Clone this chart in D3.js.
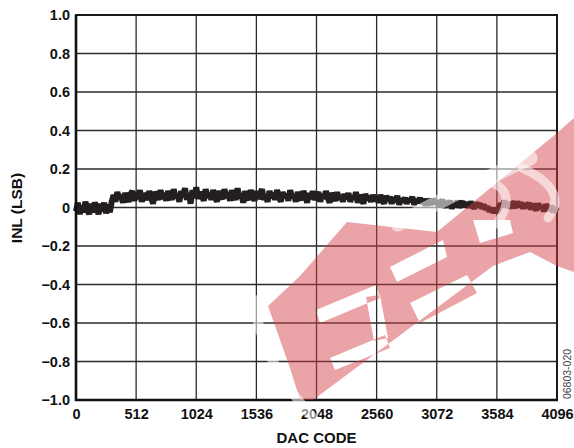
<!DOCTYPE html>
<html><head><meta charset="utf-8">
<script src="https://cdn.jsdelivr.net/npm/d3@7"></script>
<style>html,body{margin:0;padding:0;background:#fff;}svg{display:block;}</style>
</head><body>
<svg id="chart" width="574" height="448"></svg>
<script>
// ---- data ----
const xTickValues = [0, 512, 1024, 1536, 2048, 2560, 3072, 3584, 4096];
const yTickValues = [-1.0, -0.8, -0.6, -0.4, -0.2, 0, 0.2, 0.4, 0.6, 0.8, 1.0];
const yTickLabels = ["\u22121.0","\u22120.8","\u22120.6","\u22120.4","\u22120.2","0","0.2","0.4","0.6","0.8","1.0"];
const codeStep = 16;
// INL (LSB) read every 16 codes, 0 .. 4096
const inl0 = [-0.02,0.025,-0.035,0.01,-0.025,0.03,-0.01,-0.035,0.02,-0.025,0.025,0.0,-0.035,0.02,-0.02,0.025];
const inl1 = [-0.03,0.015,-0.025,0.03,0.065,0.03,0.08,0.045,0.06,0.025,0.075,0.05,0.03,0.07,0.085,0.035];
const inl2 = [0.075,0.045,0.09,0.03,0.07,0.06,0.04,0.085,0.05,0.02,0.08,0.065,0.04,0.09,0.045,0.075];
const inl3 = [0.035,0.085,0.06,0.04,0.095,0.05,0.07,0.03,0.085,0.055,0.1,0.04,0.075,0.02,0.09,0.05];
const inl4 = [0.105,0.045,0.08,0.06,0.035,0.095,0.05,0.075,0.04,0.09,0.055,0.03,0.085,0.06,0.045,0.095];
const inl5 = [0.05,0.08,0.035,0.09,0.06,0.04,0.1,0.05,0.07,0.025,0.085,0.055,0.04,0.09,0.06,0.035];
const inl6 = [0.085,0.045,0.07,0.095,0.04,0.06,0.03,0.085,0.05,0.075,0.04,0.09,0.055,0.03,0.08,0.05];
const inl7 = [0.07,0.035,0.09,0.05,0.065,0.03,0.08,0.055,0.04,0.085,0.06,0.025,0.075,0.045,0.085,0.04];
const inl8 = [0.06,0.08,0.03,0.07,0.045,0.085,0.05,0.025,0.075,0.055,0.035,0.08,0.04,0.065,0.03,0.07];
const inl9 = [0.045,0.075,0.03,0.06,0.04,0.08,0.025,0.065,0.045,0.02,0.07,0.04,0.06,0.03,0.065,0.035];
const inl10 = [0.055,0.025,0.065,0.04,0.02,0.06,0.035,0.055,0.02,0.05,0.03,0.06,0.015,0.045,0.03,0.05];
const inl11 = [0.02,0.045,0.03,0.055,0.015,0.04,0.025,0.05,0.02,0.045,0.01,0.04,0.03,0.015,0.045,0.02];
const inl12 = [0.035,0.005,0.025,0.04,0.0,0.03,0.015,0.035,-0.005,0.025,0.01,0.035,0.0,0.02,0.03,0.005];
const inl13 = [0.025,0.0,0.03,0.01,-0.005,0.025,0.005,0.02,-0.005,0.015,-0.01,0.005,-0.02,-0.005,-0.025,-0.01];
const inl14 = [-0.025,-0.005,0.02,0.005,0.035,0.01,0.025,-0.005,0.03,0.015,0.0,0.03,0.01,0.025,-0.005,0.02];
const inl15 = [0.0,0.025,-0.01,0.015,0.005,-0.015,0.02,-0.005,0.01,-0.02,0.015,0.0,-0.015,0.01,-0.025,-0.005];
const inlLast = [-0.02];
const inlValues = [].concat(inl0,inl1,inl2,inl3,inl4,inl5,inl6,inl7,inl8,inl9,inl10,inl11,inl12,inl13,inl14,inl15,inlLast);
const data = inlValues.map((v,i)=>({code:i*codeStep, inl:v}));

// ---- layout ----
const svg = d3.select("#chart");
const m = {left:76, right:557, top:15, bottom:400};
const x = d3.scaleLinear().domain([0,4096]).range([m.left, m.right]);
const y = d3.scaleLinear().domain([-1,1]).range([m.bottom, m.top]);
const FONT = "'Liberation Sans', Arial, Helvetica, sans-serif";

// grid
svg.append("g").selectAll("line").data(xTickValues.slice(1,-1)).join("line")
  .attr("x1",d=>x(d)).attr("x2",d=>x(d)).attr("y1",m.top).attr("y2",m.bottom)
  .attr("stroke","#2b2b2b").attr("stroke-width",1.3);
svg.append("g").selectAll("line").data(yTickValues.slice(1,-1)).join("line")
  .attr("x1",m.left).attr("x2",m.right).attr("y1",d=>y(d)).attr("y2",d=>y(d))
  .attr("stroke","#2b2b2b").attr("stroke-width",1.3);

// data band
const line = d3.line().x(d=>x(d.code)).y(d=>y(d.inl));
svg.append("path").datum(data).attr("d",line)
  .attr("fill","none").attr("stroke","#231f20").attr("stroke-width",6)
  .attr("stroke-linejoin","bevel").attr("stroke-linecap","butt");

// frame
svg.append("rect").attr("x",m.left).attr("y",m.top).attr("width",m.right-m.left).attr("height",m.bottom-m.top)
  .attr("fill","none").attr("stroke","#1a1a1a").attr("stroke-width",2);
svg.append("line").attr("x1",m.left).attr("x2",m.left).attr("y1",m.top).attr("y2",m.bottom+1)
  .attr("stroke","#111").attr("stroke-width",2.6);
svg.append("line").attr("x1",m.left-1).attr("x2",m.right+1).attr("y1",m.bottom).attr("y2",m.bottom)
  .attr("stroke","#111").attr("stroke-width",2.6);

// axes labels via d3 axes (no lines)
const yAxis = d3.axisLeft(y).tickValues(yTickValues).tickSize(0).tickPadding(6)
  .tickFormat((d,i)=>yTickLabels[i]);
const gy = svg.append("g").attr("transform",`translate(${m.left},0)`).call(yAxis);
gy.select(".domain").remove();
gy.selectAll("text").attr("font-family",FONT).attr("font-size",14.5).attr("font-weight","bold").attr("fill","#111");

const xAxis = d3.axisBottom(x).tickValues(xTickValues).tickSize(0).tickPadding(9).tickFormat(d3.format("d"));
const gx = svg.append("g").attr("transform",`translate(0,${m.bottom})`).call(xAxis);
gx.select(".domain").remove();
gx.selectAll("text").attr("font-family",FONT).attr("font-size",14.5).attr("font-weight","bold").attr("fill","#111");

// titles
svg.append("text").attr("x",(m.left+m.right)/2).attr("y",443).attr("text-anchor","middle")
  .attr("font-family",FONT).attr("font-size",15).attr("font-weight","bold").attr("fill","#111").text("DAC CODE");
svg.append("text").attr("transform","translate(22,208) rotate(-90)").attr("text-anchor","middle")
  .attr("font-family",FONT).attr("font-size",15.5).attr("font-weight","bold").attr("fill","#111").text("INL (LSB)");
svg.append("text").attr("transform","translate(571,374) rotate(-90)").attr("text-anchor","middle")
  .attr("font-family",FONT).attr("font-size",10.5).attr("fill","#444").text("06803-020");

// ---- watermark overlay (translucent logo stamped on the source image) ----
const wm = svg.append("g").attr("class","watermark");
wm.append("path")
  .attr("d","M268,306 L300,276 L347,222 L437,232 L557,133 L574,118 L574,272 L557,266 L530,252 L493,266 L313,400 L300,400 L290,368 Z " +
            "M316,310 L376,285 L380,298 L320,323 Z " +
            "M330,358 L385,335 L390,348 L335,370 Z " +
            "M366,297 L380,295 L388,338 L374,341 Z " +
            "M390,267 L443,240 L447,257 L397,282 Z " +
            "M410,303 L467,275 L477,293 L420,323 Z " +
            "M473,220 L510,220 L513,233 L480,243 Z")
  .attr("fill","rgb(210,63,70)").attr("fill-opacity",0.475).attr("fill-rule","evenodd");
const arcs = ["M322,428 Q258,360 255,300", "M398,224 Q455,192 530,158",
              "M468,178 Q525,182 497,224", "M522,168 Q570,190 548,218"];
const arcW = [10, 15, 9, 9];
wm.selectAll("path.arc").data(arcs).join("path").attr("class","arc")
  .attr("d",d=>d).attr("fill","none").attr("stroke","#fff").attr("stroke-opacity",0.55)
  .attr("stroke-width",(d,i)=>arcW[i]).attr("stroke-linecap","round");
</script>
</body></html>
